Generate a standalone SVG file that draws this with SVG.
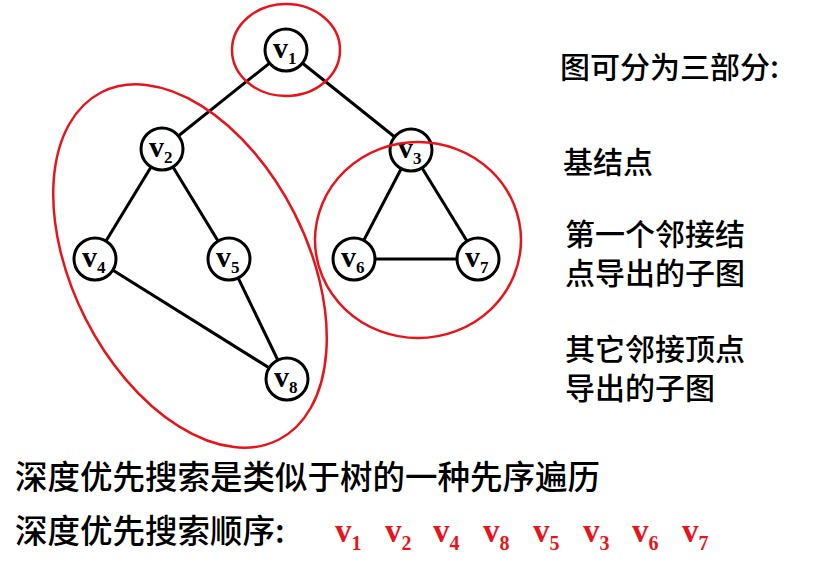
<svg xmlns="http://www.w3.org/2000/svg" width="820" height="561" viewBox="0 0 820 561">
<style>
.n{fill:#fff;stroke:#000;stroke-width:3}
.l{stroke:#000;stroke-width:3}
.e{fill:none;stroke:#e8141c;stroke-width:2.5}
.v{font-family:"Liberation Serif",serif;font-weight:bold;font-size:30px}
.s{font-size:17px}
.t{font-family:"Noto Sans CJK SC",sans-serif;font-size:30px;font-weight:500}
.r{font-family:"Liberation Serif",serif;font-weight:bold;font-size:33px;fill:#e8141c}
.rs{font-size:20px}
</style>
<rect width="820" height="561" fill="#fff"/>
<g id="edges">
<line class="l" x1="286" y1="50" x2="162" y2="149"/>
<line class="l" x1="286" y1="50" x2="411" y2="150"/>
<line class="l" x1="162" y1="149" x2="95" y2="259"/>
<line class="l" x1="162" y1="149" x2="229" y2="259"/>
<line class="l" x1="95" y1="259" x2="287" y2="379"/>
<line class="l" x1="229" y1="259" x2="287" y2="379"/>
<line class="l" x1="411" y1="150" x2="354" y2="259"/>
<line class="l" x1="411" y1="150" x2="478" y2="259"/>
<line class="l" x1="354" y1="259" x2="478" y2="259"/>
</g>
<g id="n1"><circle class="n" cx="286" cy="50" r="21"/><text class="v" x="273" y="58">v<tspan class="s" dy="6">1</tspan></text></g>
<g id="n2"><circle class="n" cx="162" cy="149" r="21"/><text class="v" x="149" y="157">v<tspan class="s" dy="6">2</tspan></text></g>
<g id="n3"><circle class="n" cx="411" cy="150" r="21"/><text class="v" x="398" y="158">v<tspan class="s" dy="6">3</tspan></text></g>
<g id="n4"><circle class="n" cx="95" cy="259" r="21"/><text class="v" x="82" y="267">v<tspan class="s" dy="6">4</tspan></text></g>
<g id="n5"><circle class="n" cx="229" cy="259" r="21"/><text class="v" x="216" y="267">v<tspan class="s" dy="6">5</tspan></text></g>
<g id="n6"><circle class="n" cx="354" cy="259" r="21"/><text class="v" x="341" y="267">v<tspan class="s" dy="6">6</tspan></text></g>
<g id="n7"><circle class="n" cx="478" cy="259" r="21"/><text class="v" x="465" y="267">v<tspan class="s" dy="6">7</tspan></text></g>
<g id="n8"><circle class="n" cx="287" cy="379" r="21"/><text class="v" x="274" y="387">v<tspan class="s" dy="6">8</tspan></text></g>
<g id="groups">
<ellipse class="e" cx="286" cy="50" rx="54" ry="46"/>
<ellipse class="e" cx="190" cy="266" rx="117" ry="195" transform="rotate(-27 190 266)"/>
<ellipse class="e" cx="418" cy="240" rx="103" ry="98"/>
</g>
<g id="labels">
<text class="t" x="560" y="78">图可分为三部分:</text>
<text class="t" x="563" y="173">基结点</text>
<text class="t" x="565" y="245">第一个邻接结</text>
<text class="t" x="565" y="284">点导出的子图</text>
<text class="t" x="565" y="360">其它邻接顶点</text>
<text class="t" x="565" y="399">导出的子图</text>
<text class="t" x="15" y="489" style="font-size:32.5px">深度优先搜索是类似于树的一种先序遍历</text>
<text class="t" x="15" y="543" style="font-size:32.5px">深度优先搜索顺序:</text>
</g>
<g id="order">
<text class="r" x="335" y="542">v<tspan class="rs" dy="8">1</tspan></text>
<text class="r" x="385" y="542">v<tspan class="rs" dy="8">2</tspan></text>
<text class="r" x="433" y="542">v<tspan class="rs" dy="8">4</tspan></text>
<text class="r" x="483" y="542">v<tspan class="rs" dy="8">8</tspan></text>
<text class="r" x="533" y="542">v<tspan class="rs" dy="8">5</tspan></text>
<text class="r" x="583" y="542">v<tspan class="rs" dy="8">3</tspan></text>
<text class="r" x="632" y="542">v<tspan class="rs" dy="8">6</tspan></text>
<text class="r" x="682" y="542">v<tspan class="rs" dy="8">7</tspan></text>
</g>
</svg>
